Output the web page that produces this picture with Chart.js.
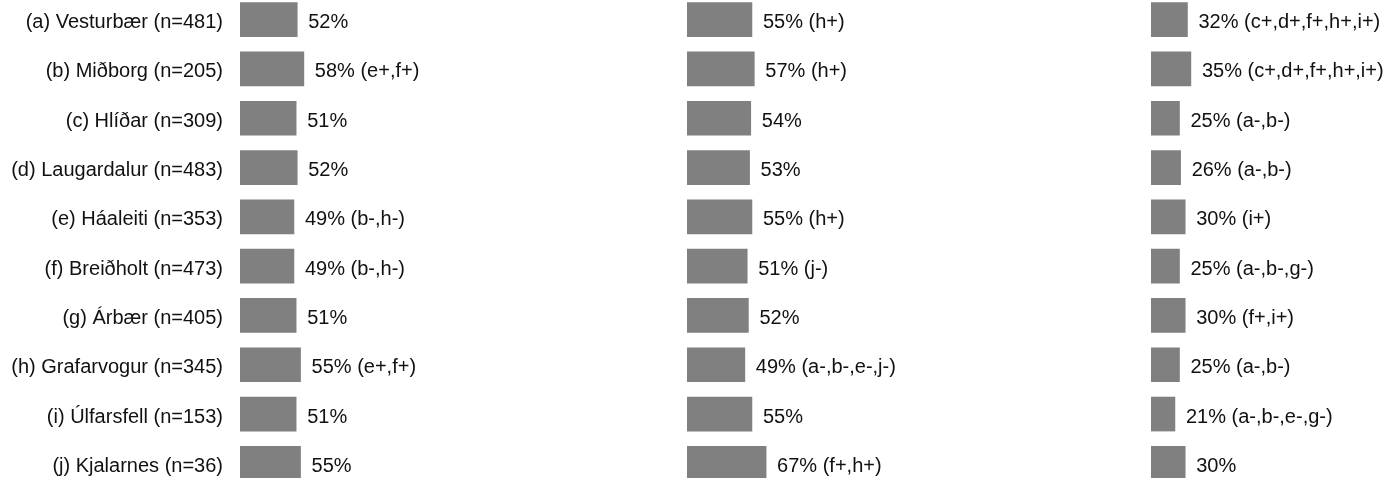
<!DOCTYPE html>
<html>
<head>
<meta charset="utf-8">
<script src="https://cdn.jsdelivr.net/npm/chart.js@4/dist/chart.umd.min.js"></script>
<style>
  html, body { margin: 0; padding: 0; background: #fff; overflow: hidden; }
  #wrap { position: absolute; left: 0; top: -5px; width: 1388px; height: 493px; }
</style>
</head>
<body>
<div id="wrap"><canvas id="chart" width="1388" height="493"></canvas></div>
<script>
const categories = [
    '(a) Vesturbær (n=481)',
    '(b) Miðborg (n=205)',
    '(c) Hlíðar (n=309)',
    '(d) Laugardalur (n=483)',
    '(e) Háaleiti (n=353)',
    '(f) Breiðholt (n=473)',
    '(g) Árbær (n=405)',
    '(h) Grafarvogur (n=345)',
    '(i) Úlfarsfell (n=153)',
    '(j) Kjalarnes (n=36)'
];

// three columns of percentages + significance notes
const col1 = [52, 58, 51, 52, 49, 49, 51, 55, 51, 55];
const sig1 = ['', '(e+,f+)', '', '', '(b-,h-)', '(b-,h-)', '', '(e+,f+)', '', ''];

const col2 = [55, 57, 54, 53, 55, 51, 52, 49, 55, 67];
const sig2 = ['(h+)', '(h+)', '', '', '(h+)', '(j-)', '', '(a-,b-,e-,j-)', '', '(f+,h+)'];

const col3 = [32, 35, 25, 26, 30, 25, 30, 25, 21, 30];
const sig3 = ['(c+,d+,f+,h+,i+)', '(c+,d+,f+,h+,i+)', '(a-,b-)', '(a-,b-)', '(i+)', '(a-,b-,g-)', '(f+,i+)', '(a-,b-)', '(a-,b-,e-,g-)', ''];

const sigs = [sig1, sig2, sig3];
const barColor = '#808080';
const fontFamily = '"Liberation Sans", Arial, sans-serif';

const ctx = document.getElementById('chart').getContext('2d');

// writes "52% (e+,f+)" right of each bar
const valueLabels = {
    id: 'valueLabels',
    afterDatasetsDraw(chart) {
        const c = chart.ctx;
        c.save();
        c.font = '20px ' + fontFamily;
        c.fillStyle = '#111';
        c.textAlign = 'left';
        c.textBaseline = 'middle';
        chart.data.datasets.forEach((ds, di) => {
            const meta = chart.getDatasetMeta(di);
            meta.data.forEach((bar, i) => {
                let txt = ds.data[i] + '%';
                if (sigs[di][i]) txt += ' ' + sigs[di][i];
                c.fillText(txt, bar.x + 11, bar.y + 3);
            });
        });
        c.restore();
    }
};

function hiddenAxis(weight, max) {
    return {
        type: 'linear',
        position: 'bottom',
        stack: 'cols',
        stackWeight: weight,
        min: 0,
        max: max,
        grid: { display: false, drawTicks: false },
        border: { display: false },
        ticks: { display: false },
        afterFit(scale) { scale.height = 0; }
    };
}

const chart = new Chart(ctx, {
    type: 'bar',
    data: {
        labels: categories,
        datasets: [
            { data: col1, xAxisID: 'x1', backgroundColor: barColor, barThickness: 34, grouped: false },
            { data: col2, xAxisID: 'x2', backgroundColor: barColor, barThickness: 34, grouped: false },
            { data: col3, xAxisID: 'x3', backgroundColor: barColor, barThickness: 34, grouped: false }
        ]
    },
    options: {
        indexAxis: 'y',
        responsive: false,
        animation: false,
        layout: { padding: 0 },
        plugins: {
            legend: { display: false },
            tooltip: { enabled: false }
        },
        scales: {
            y: {
                grid: { display: false, drawTicks: false },
                border: { display: false },
                ticks: {
                    color: '#111',
                    padding: 17,
                    labelOffset: 3,
                    font: { family: fontFamily, size: 20 }
                },
                afterFit(scale) {
                    scale.width = 240;
                    scale.paddingTop = 0;
                    scale.paddingBottom = 0;
                }
            },
            x1: hiddenAxis(447, 406),
            x2: hiddenAxis(464, 393),
            x3: hiddenAxis(237, 208)
        }
    },
    plugins: [valueLabels]
});
</script>
</body>
</html>
